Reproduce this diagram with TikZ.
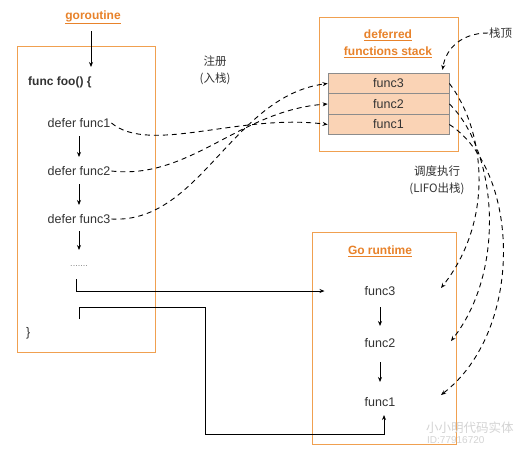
\documentclass[tikz,border=0pt]{standalone}
\usepackage{fontspec}
\setmainfont{Liberation Sans}
\newfontfamily\cjk{Noto Sans CJK SC}
\usetikzlibrary{arrows.meta}
\definecolor{orgline}{HTML}{F0A050}
\definecolor{orgtext}{HTML}{E8822A}
\definecolor{cellfill}{HTML}{FAD3B5}
\definecolor{cellline}{HTML}{8C8C8C}
\definecolor{txt}{HTML}{333333}
\definecolor{wm}{HTML}{D4D4D4}
\begin{document}
\begin{tikzpicture}[x=1pt,y=-1pt,
  frame/.style={draw=orgline, line width=1pt, inner sep=0pt},
  title/.style={font=\fontsize{12}{17}\selectfont\bfseries, text=orgtext, align=center, inner sep=1pt},
  stmt/.style={font=\fontsize{12.5}{15}\selectfont, text=txt, inner sep=1pt},
  cell/.style={draw=cellline, fill=cellfill, line width=0.8pt, minimum width=121pt, minimum height=20.5pt, inner sep=0pt, font=\fontsize{12.5}{15}\selectfont, text=txt},
  note/.style={font=\cjk\fontsize{11.5}{17}\selectfont, text=txt, align=center, inner sep=1pt},
  arr/.style={-{Stealth[length=5pt,width=4pt]}, line width=0.9pt},
  darr/.style={-{Stealth[length=5pt,width=4pt]}, line width=0.9pt, dash pattern=on 5pt off 4pt},
]
\useasboundingbox (0,0) rectangle (529,456);
\fill[white] (0,0) rectangle (529,456);

% frames
\node[frame, minimum width=138pt, minimum height=306pt] (goframe) at (86,199) {};
\node[frame, minimum width=139pt, minimum height=134pt] (stframe) at (388.5,84) {};
\node[frame, minimum width=144pt, minimum height=212pt] (rtframe) at (384,338) {};

% titles
\node[title] (gotitle) at (93,17) {\underline{goroutine}};
\node[title] (sttitle) at (388,44) {\underline{deferred}\\\underline{functions stack}};
\node[title] (rttitle) at (380,251) {\underline{Go runtime}};

% goroutine content
\node[stmt, font=\fontsize{12}{15}\selectfont\bfseries, anchor=west] (foo) at (27,82) {func foo() \{};
\node[stmt] (d1) at (79,123) {defer func1};
\node[stmt] (d2) at (79,171) {defer func2};
\node[stmt] (d3) at (79,219) {defer func3};
\node[stmt, text=gray, font=\fontsize{9}{10}\selectfont] (dots) at (79,266) {.......};
\node[stmt, anchor=west] (brace) at (25,333) {\}};
\coordinate (gotop) at (91,31);
\coordinate (fooin) at (91,67);
\coordinate (d3out) at (79,250);
\coordinate (l1s) at (76,279);
\coordinate (l2s) at (79,319);
\coordinate (c2a) at (205,307);
\coordinate (c2b) at (384,434);

\draw[arr] (gotop) -- (fooin);
\draw[arr, shorten <=13pt, shorten >=14pt] (d1.center) -- (d2.center);
\draw[arr, shorten <=13pt, shorten >=14pt] (d2.center) -- (d3.center);
\draw[arr, shorten <=12pt] (d3.center) -- (d3out);

% stack cells
\node[cell] (s3) at (388.5,83.5) {func3};
\node[cell] (s2) at (388.5,104) {func2};
\node[cell] (s1) at (388.5,124.5) {func1};

% runtime funcs
\node[stmt] (rf3) at (380,291) {func3};
\node[stmt] (rf2) at (380,343) {func2};
\node[stmt] (rf1) at (380,402) {func1};
\draw[arr, shorten <=16pt, shorten >=17pt] (rf3.center) -- (rf2.center);
\draw[arr, shorten <=19pt, shorten >=20pt] (rf2.center) -- (rf1.center);

% solid routing lines
\draw[arr] (l1s) |- ([xshift=-39pt]rf3.west);
\draw[arr, shorten >=13pt] (l2s) |- (c2a) |- (c2b) -- ([xshift=4pt]rf1.center);

% notes
\node[note] (reg) at (215,70) {注册\\(入栈)};
\node[note] (sched) at (437,180) {调度执行\\(LIFO出栈)};
\node[note, anchor=west] (top) at (488,33) {栈顶};

% dashed: register
\draw[darr] (d1.east) .. controls (150,155) and (240,113) .. (s1.west);
\draw[darr] (d2.east) .. controls (190,180) and (240,110) .. (s2.west);
\draw[darr] (d3.east) .. controls (200,224) and (232,96) .. (s3.west);

% dashed: top-of-stack
\draw[darr] (top.west) .. controls (462,33) and (446,48) .. ([xshift=54pt,yshift=3pt]s3.north);

% dashed: schedule
\coordinate (t3) at (441,288);
\coordinate (t2) at (451,341);
\coordinate (t1) at (441,395);
\draw[darr] (s3.east) .. controls (485,130) and (495,220) .. (t3);
\draw[darr] (s2.east) .. controls (497,150) and (507,270) .. (t2);
\draw[darr] (s1.east) .. controls (520,170) and (525,330) .. (t1);

% watermark
\node[anchor=west, text=wm, font=\cjk\fontsize{12.5}{13}\selectfont, inner sep=0pt] (wm1) at (426,428) {小小明代码实体};
\node[anchor=west, text=wm, font=\fontsize{10}{11}\selectfont, inner sep=0pt] (wm2) at (427,440) {ID:77916720};
\end{tikzpicture}
\end{document}
